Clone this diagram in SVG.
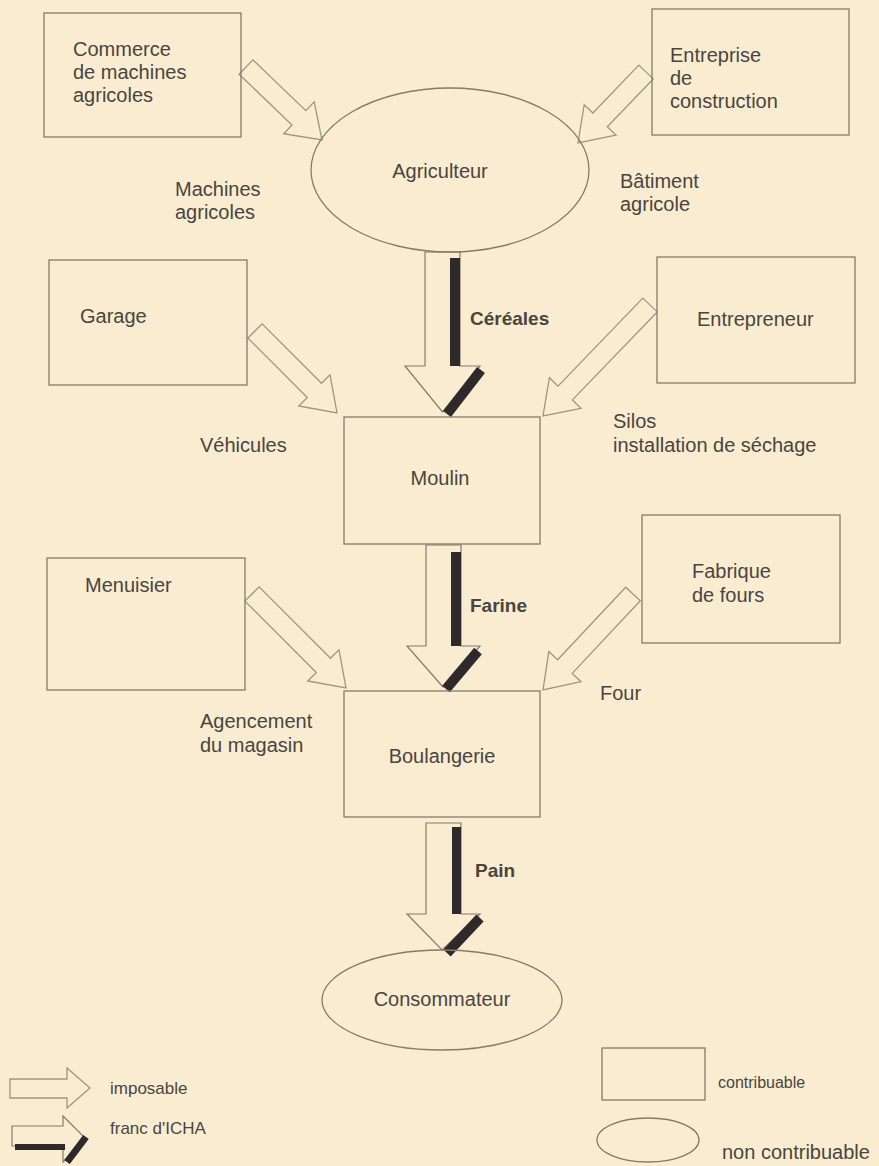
<svg xmlns="http://www.w3.org/2000/svg" width="879" height="1166" viewBox="0 0 879 1166">
<style>
.bg{fill:#f9ecd1}
.box{fill:none;stroke:#857b6c;stroke-width:1.3}
.arr{fill:#f9ecd1;stroke:#a09583;stroke-width:1.3;stroke-linejoin:miter}
.big{fill:#f9ecd1;stroke:#857b6c;stroke-width:1.2}
.blk{fill:#2e2a2c}
.blkl{stroke:#2e2a2c;stroke-width:10;fill:none}
text{font-family:"Liberation Sans",Arial,sans-serif;font-size:20px;fill:#4a4540}
.b{font-weight:bold;font-size:19px}
.mid{text-anchor:middle}
</style>
<rect class="bg" x="0" y="0" width="879" height="1166"/>
<g id="connectors">
<polygon class="arr" points="239.1,74.2 292,125 283.7,133.7 322,140 314.2,101.9 305.8,110.6 252.9,59.8"/>
<polygon class="arr" points="638.8,65.1 592.9,113 584.2,104.7 578,143 616,135.1 607.3,126.8 653.2,78.9"/>
<polygon class="arr" points="247.9,338.1 307.3,397.5 298.8,406 337,413 330,374.8 321.5,383.3 262.1,323.9"/>
<polygon class="arr" points="642.8,298.1 558,386.1 549.4,377.7 543,416 581,408.3 572.4,399.9 657.2,311.9"/>
<polygon class="arr" points="244.9,601.1 316.3,672.5 307.8,681 346,688 339,649.8 330.5,658.3 259.1,586.9"/>
<polygon class="arr" points="625.7,587.2 557.6,659.8 548.8,651.6 543,690 581,681.7 572.2,673.4 640.3,600.8"/>
<g id="cereales">
<polygon class="big" points="425,252 460,252 460,366 480,366 442.5,412 405,366 425,366"/>
<rect class="blk" x="450" y="258" width="10" height="108"/>
<line class="blkl" x1="481" y1="370" x2="447" y2="414"/>
<text class="b" x="470" y="325">Céréales</text>
</g>
<g id="farine">
<polygon class="big" points="426,545 461,545 461,646 480,646 443,687 407,646 426,646"/>
<rect class="blk" x="451" y="552" width="10" height="94"/>
<line class="blkl" x1="478" y1="651" x2="446" y2="689"/>
<text class="b" x="470" y="612">Farine</text>
</g>
<g id="pain">
<polygon class="big" points="426,823 461,823 461,914 480,914 442,950 407,914 426,914"/>
<rect class="blk" x="452" y="827" width="9" height="87"/>
<line class="blkl" x1="480" y1="918" x2="447" y2="953"/>
<text class="b" x="475" y="877">Pain</text>
</g>
</g>
<g id="commerce">
<rect class="box" x="44" y="13" width="197" height="124"/>
<text x="73" y="56">Commerce</text>
<text x="73" y="79">de machines</text>
<text x="73" y="102">agricoles</text>
</g>
<g id="entreprise">
<rect class="box" x="652" y="9" width="197" height="126"/>
<text x="670" y="62">Entreprise</text>
<text x="670" y="85">de</text>
<text x="670" y="108">construction</text>
</g>
<g id="agriculteur">
<ellipse class="box" cx="450" cy="170" rx="139" ry="82"/>
<text class="mid" x="440" y="178">Agriculteur</text>
</g>
<text x="175" y="196">Machines</text>
<text x="175" y="219">agricoles</text>
<text x="620" y="188">Bâtiment</text>
<text x="620" y="211">agricole</text>
<g id="garage">
<rect class="box" x="49" y="260" width="198" height="125"/>
<text x="80" y="323">Garage</text>
</g>
<g id="entrepreneur">
<rect class="box" x="657" y="257" width="198" height="126"/>
<text x="697" y="326">Entrepreneur</text>
</g>
<text x="200" y="452">Véhicules</text>
<text x="613" y="428">Silos</text>
<text x="613" y="452">installation de séchage</text>
<g id="moulin">
<rect class="box" x="344" y="417" width="196" height="127"/>
<text class="mid" x="440" y="485">Moulin</text>
</g>
<g id="menuisier">
<rect class="box" x="47" y="558" width="198" height="132"/>
<text x="85" y="592">Menuisier</text>
</g>
<g id="fabrique">
<rect class="box" x="642" y="515" width="198" height="128"/>
<text x="692" y="578">Fabrique</text>
<text x="692" y="602">de fours</text>
</g>
<text x="600" y="700">Four</text>
<text x="200" y="728">Agencement</text>
<text x="200" y="752">du magasin</text>
<g id="boulangerie">
<rect class="box" x="344" y="691" width="196" height="126"/>
<text class="mid" x="442" y="763">Boulangerie</text>
</g>
<g id="consommateur">
<ellipse class="box" cx="442" cy="1000" rx="120" ry="50"/>
<text class="mid" x="442" y="1006">Consommateur</text>
</g>
<g id="legend">
<polygon class="arr" points="10,1079 67,1079 67,1068 90,1088 67,1108 67,1098 10,1098"/>
<text x="110" y="1094" style="font-size:17px">imposable</text>
<polygon class="big" points="12,1126 63,1126 63,1116 86,1139 63,1162 63,1146 12,1146"/>
<rect class="blk" x="15" y="1144" width="50" height="6"/>
<line class="blkl" style="stroke-width:7" x1="86" y1="1137" x2="67" y2="1162"/>
<text x="110" y="1134" style="font-size:17px">franc d'ICHA</text>
<rect class="box" x="602" y="1048" width="103" height="52"/>
<text x="718" y="1088" style="font-size:16px">contribuable</text>
<ellipse class="box" cx="648" cy="1140" rx="51" ry="22"/>
<text x="722" y="1159">non contribuable</text>
</g>
</svg>
